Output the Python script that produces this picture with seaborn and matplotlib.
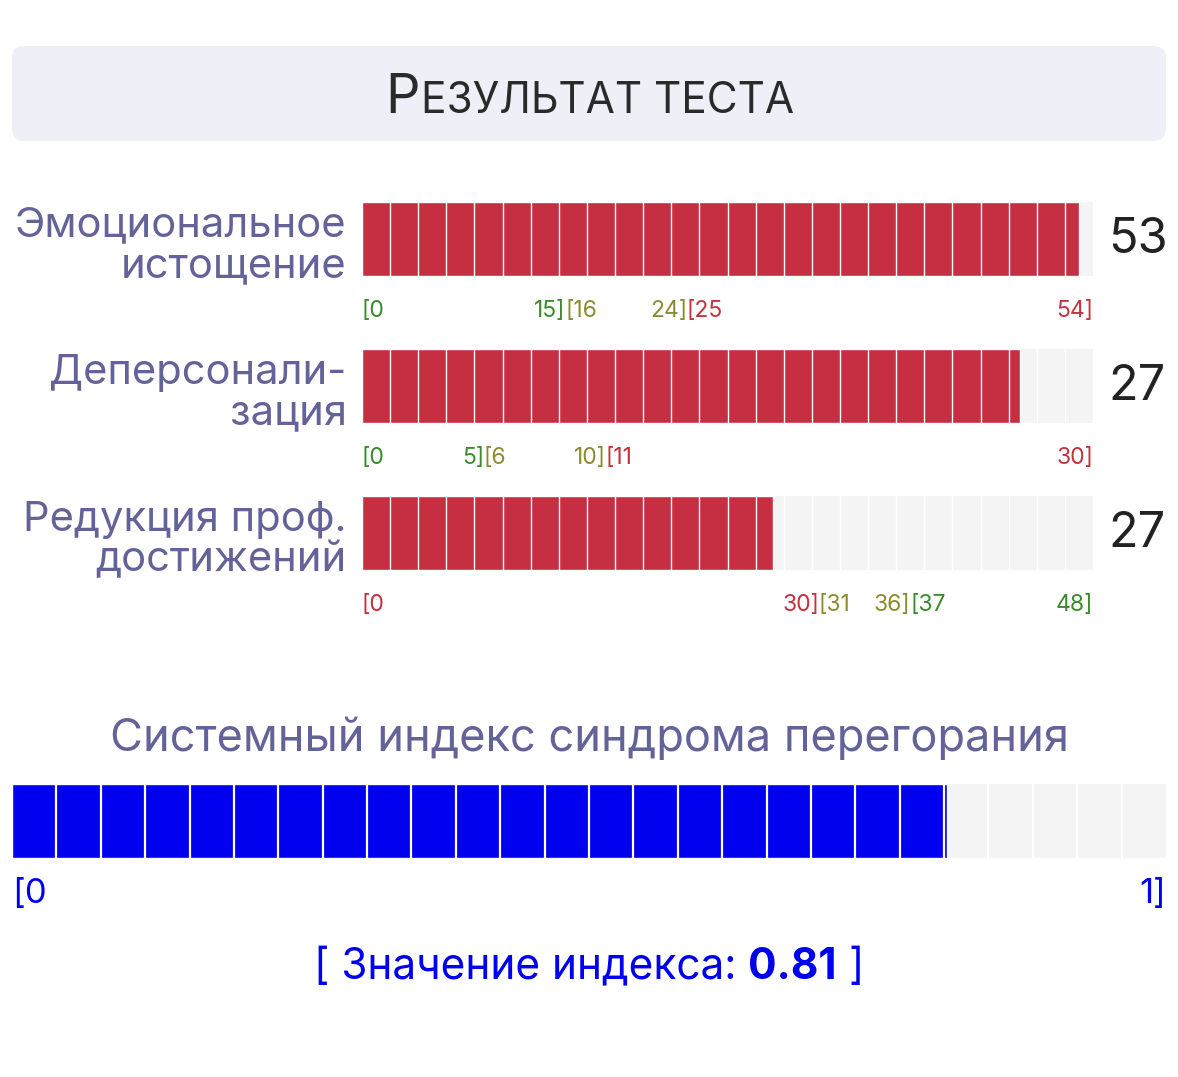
import numpy as np
import matplotlib
matplotlib.use("Agg")
import matplotlib.pyplot as plt
import seaborn as sns
from matplotlib.patches import FancyBboxPatch

W, H = 1178, 1077

# data
scales = ["Эмоциональное\nистощение", "Деперсонали-\nзация", "Редукция проф.\nдостижений"]
scores = [53, 27, 27]
max_scores = [54, 30, 48]
ranges = [
    [(0, 15), (16, 24), (25, 54)],
    [(0, 5), (6, 10), (11, 30)],
    [(0, 30), (31, 36), (37, 48)],
]
GREEN, OLIVE, RED = "#3b8a2c", "#8c8c2e", "#c5313f"
range_colors = [[GREEN, OLIVE, RED], [GREEN, OLIVE, RED], [RED, OLIVE, GREEN]]
index_title = "Системный индекс синдрома перегорания"
index_value = 0.81
index_max = 1
n_segments = 26

BAR_RED = "#c62f42"
EMPTY = "#f4f4f4"
LABEL = "#63639a"
BLUE = "#0000ee"

sns.set_theme(style="white")
plt.rcParams["font.family"] = ["Inter", "DejaVu Sans"]

fig = plt.figure(figsize=(W / 100, H / 100), dpi=100)
fig.patch.set_facecolor("white")


def fx(px):
    return px / W


def fy(py):
    return 1 - py / H


def bar_axes(x0, x1, y0, y1):
    return fig.add_axes([fx(x0), fy(y1), fx(x1 - x0), (y1 - y0) / H])


def segmented_bar(ax, value, vmax, color, lw):
    ax.set_facecolor(EMPTY)
    sns.barplot(x=[value], y=[0], orient="h", color=color, width=1,
                saturation=1, ax=ax)
    ax.set_xlim(0, vmax)
    ax.set_ylim(0.5, -0.5)
    ax.vlines(np.linspace(0, vmax, n_segments + 1)[1:-1], -0.5, 0.5,
              color="white", lw=lw)
    ax.set_xticks([])
    ax.set_yticks([])
    ax.set_xlabel("")
    ax.set_ylabel("")
    for s in ax.spines.values():
        s.set_visible(False)


# title box
box = FancyBboxPatch((fx(12), fy(141)), fx(1154), (141 - 46) / H,
                     boxstyle="round,pad=0,rounding_size=0.011",
                     transform=fig.transFigure, facecolor="#eff0f7",
                     edgecolor="none")
fig.patches.append(box)


def place_row(pieces, cx, y_px, gap=0):
    texts = [fig.text(0, fy(y_px), s, va="baseline", ha="left", **kw)
             for s, kw in pieces]
    fig.canvas.draw()
    r = fig.canvas.get_renderer()
    widths = [t.get_window_extent(r).width for t in texts]
    total = sum(widths) + gap * (len(texts) - 1)
    x = cx - total / 2
    for t, w in zip(texts, widths):
        t.set_x(fx(x))
        x += w + gap


place_row([("Р", dict(fontsize=39, color="#2a2a2a")),
           ("ЕЗУЛЬТАТ ТЕСТА", dict(fontsize=30.5, color="#2a2a2a"))],
          590, 113, gap=1)

# scale rows
bar_tops = [202, 349, 496]
for i, name in enumerate(scales):
    top = bar_tops[i]
    ax = bar_axes(362, 1093, top, top + 74)
    segmented_bar(ax, scores[i], max_scores[i], BAR_RED, 1.0)

    ax.annotate(name, xy=(0, 0.5), xycoords="axes fraction",
                xytext=(-11, -5), textcoords="offset points",
                ha="right", va="center", fontsize=30, color=LABEL,
                linespacing=1.08)
    ax.annotate(str(scores[i]), xy=(1, 0.5), xycoords="axes fraction",
                xytext=(32, -1), textcoords="offset points",
                ha="center", va="center", fontsize=35, color="#222222")

    trans = ax.get_xaxis_transform()
    prev_hi = None
    for (lo, hi), c in zip(ranges[i], range_colors[i]):
        left_x = lo if prev_hi is None else prev_hi
        ax.text(left_x, -0.47, f"[{lo}", transform=trans, ha="left",
                va="center", fontsize=16.5, color=c)
        ax.text(hi, -0.47, f"{hi}]", transform=trans, ha="right",
                va="center", fontsize=16.5, color=c)
        prev_hi = hi

# index section
fig.text(0.5, fy(738), index_title, ha="center", va="center",
         fontsize=32.5, color=LABEL)
ax = bar_axes(12, 1166, 784, 858)
segmented_bar(ax, index_value, index_max, BLUE, 1.6)
ax.text(0, -0.49, "[0", transform=ax.get_xaxis_transform(), ha="left",
        va="center", fontsize=25, color=BLUE)
ax.text(index_max, -0.49, f"{index_max}]", transform=ax.get_xaxis_transform(),
        ha="right", va="center", fontsize=25, color=BLUE)

place_row([("[ Значение индекса:", dict(fontsize=30.5, color=BLUE)),
           (f"{index_value:.2f}", dict(fontsize=30.5, color=BLUE, fontweight="bold")),
           ("]", dict(fontsize=30.5, color=BLUE))],
          589, 979, gap=12)

fig.savefig("out.png", dpi=100, facecolor="white")
